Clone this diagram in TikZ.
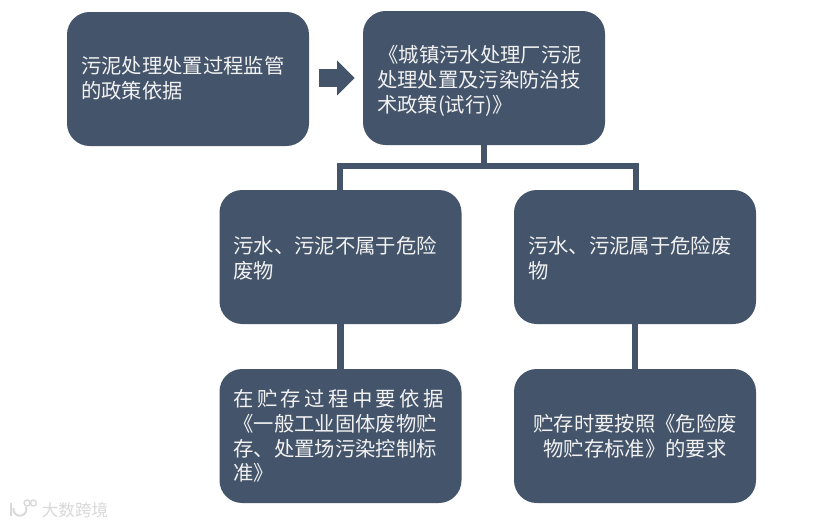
\documentclass[tikz,border=0pt]{standalone}
\usepackage{fontspec}
\usetikzlibrary{shapes.arrows}
\setmainfont{Noto Sans CJK SC}
\definecolor{slate}{HTML}{44546A}
\definecolor{paper}{HTML}{F2F2F2}
\definecolor{wmgray}{HTML}{D8D8D8}
\newcommand{\sz}{\fontsize{15.25pt}{18.6pt}\selectfont}
\newcommand{\jline}[1]{\makebox[157.5pt][s]{#1}}
\tikzset{
  x=0.75pt,y=-0.75pt,
  card/.style={fill=slate,rounded corners=17pt,minimum width=181.5pt,minimum height=100.5pt,
    inner xsep=10.5pt,inner ysep=0pt,text width=160.5pt,text=paper,font=\sz,align=left},
  cardc/.style={card,align=center},
  link/.style={draw=slate,line width=5pt},
  flow/.style={single arrow,fill=slate,minimum height=26.5pt,inner xsep=0pt,inner ysep=6.4pt,
    single arrow head extend=6.4pt,single arrow head indent=0pt,shape border rotate=0},
  wmline/.style={draw=wmgray}
}
\begin{document}
\begin{tikzpicture}
\useasboundingbox[fill=white] (0,0) rectangle (820,526);
\coordinate (t) at (484,166);
\coordinate (tl) at (340,166);
\coordinate (tr) at (636,166);
\node[card] (a) at (188,79) {污泥处理处置过程监管\\的政策依据\par\vspace{1.5pt}};
\node[card] (b) at (484,78) {\hspace*{1pt}《城镇污水处理厂污泥\\处理处置及污染防治技\\术政策(试行)》\par\vspace{-4.5pt}};
\node[card] (c) at (340.5,257) {污水、污泥不属于危险\\废物\par\vspace{-1.5pt}};
\node[card] (d) at (635,257) {污水、污泥属于危险废\\物\par\vspace{-1.5pt}};
\node[card] (e) at (340.5,436) {\jline{在\hfill 贮\hfill 存\hfill 过\hfill 程\hfill 中\hfill 要\hfill 依\hfill 据}\\《一般工业固体废物贮\\存、处置场污染控制标\\准》};
\node[cardc] (f) at (635,436) {贮存时要按照《危险废\\物贮存标准》的要求};
\node[flow] (g) at (332.5,78) {};
\draw[link] (b.south) -- (t);
\draw[link,line cap=rect] (tl) -- (tr);
\draw[link] (tl) -- (tl |- c.north);
\draw[link] (tr) -- (tr |- d.north);
\node[text=wmgray,font=\fontsize{12.4pt}{13pt}\selectfont,inner sep=0pt] (w) at (75,510) {大数跨境};
\draw[link] (c.south) -- (e.north);
\draw[link] (d.south) -- (f.north);
\draw[wmline,line width=1.4pt] (11,503) -- (11,516);
\draw[wmline,line width=1.4pt] (26,507) arc (-20:190:6.5);
\draw[wmline,line width=1pt] (27,503) circle (3);
\draw[wmline,line width=1pt] (33.5,503) circle (3);
\end{tikzpicture}
\end{document}
